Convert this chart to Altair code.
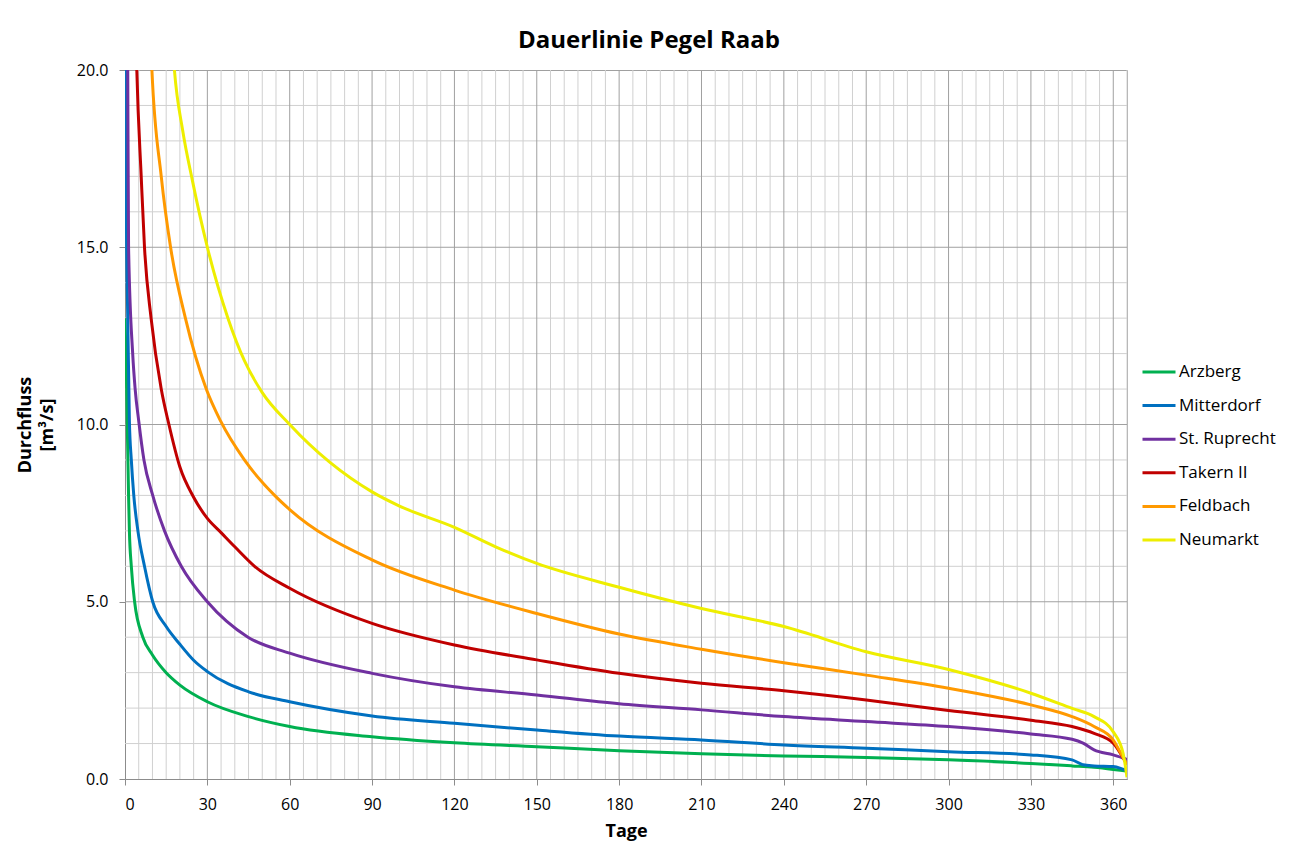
import altair as alt
import pandas as pd

stations = ["Arzberg", "Mitterdorf", "St. Ruprecht", "Takern II", "Feldbach", "Neumarkt"]
colors = ["#00B050", "#0070C0", "#7030A0", "#C00000", "#FF9900", "#EEEE00"]

arzberg_days = [0, 0.5, 0.8, 1.3, 1.6, 2.3, 3.5, 6.5, 10, 15, 20, 30, 45, 60, 90, 120, 150, 180, 210, 240, 270, 300, 330, 345, 353, 360, 364, 365]
arzberg_q = [13.0, 11.5, 10.1, 8.0, 7.0, 6.0, 5.0, 4.0, 3.5, 3.0, 2.65, 2.18, 1.76, 1.48, 1.19, 1.02, 0.91, 0.80, 0.71, 0.65, 0.61, 0.54, 0.44, 0.37, 0.33, 0.27, 0.23, 0.22]

mitterdorf_days = [0, 0.5, 1.0, 1.6, 2.3, 3.2, 4.7, 7.1, 10.1, 15, 20, 25, 30, 45, 60, 90, 120, 150, 180, 210, 240, 270, 300, 330, 345, 349, 353, 360, 364, 365]
mitterdorf_q = [30.0, 16.0, 13.0, 10.1, 9.0, 8.0, 7.0, 6.0, 5.0, 4.3, 3.8, 3.35, 3.03, 2.46, 2.18, 1.78, 1.57, 1.38, 1.21, 1.10, 0.96, 0.87, 0.77, 0.68, 0.54, 0.40, 0.37, 0.35, 0.27, 0.25]

ruprecht_days = [0, 1.0, 1.3, 2.8, 3.7, 5.0, 6.9, 10.1, 14.4, 20.5, 30, 44.8, 60, 90, 120, 150, 180, 210, 240, 270, 300, 330, 345, 349, 353, 360, 364, 365]
ruprecht_q = [40.0, 20.0, 15.0, 12.0, 11.0, 10.1, 9.0, 8.0, 7.0, 6.0, 5.0, 4.0, 3.55, 2.98, 2.60, 2.37, 2.12, 1.95, 1.76, 1.62, 1.48, 1.27, 1.12, 1.01, 0.82, 0.68, 0.58, 0.55]

takern_days = [0, 4.3, 5.9, 7.1, 9.5, 13.2, 16, 20, 25, 30, 35, 40, 47.2, 60, 90, 120, 150, 180, 210, 240, 270, 300, 330, 345, 353, 360, 364, 365]
takern_q = [45.0, 20.0, 17.0, 15.0, 13.0, 11.0, 10.0, 8.8, 7.95, 7.35, 6.95, 6.55, 6.0, 5.38, 4.39, 3.78, 3.36, 2.98, 2.70, 2.49, 2.23, 1.93, 1.66, 1.48, 1.29, 1.01, 0.54, 0.40]

feldbach_days = [0, 9.8, 13.2, 16.6, 22, 29.6, 34.8, 43.5, 54.5, 60, 90, 120, 150, 180, 210, 240, 270, 300, 330, 345, 353, 360, 364, 365]
feldbach_q = [60.0, 20.0, 17.0, 15.0, 13.0, 11.0, 10.1, 9.0, 8.0, 7.6, 6.18, 5.33, 4.67, 4.09, 3.66, 3.28, 2.93, 2.56, 2.09, 1.76, 1.48, 1.10, 0.54, 0.40]

neumarkt_days = [0, 18, 21, 24.5, 30, 37.5, 43.5, 50, 60, 90, 100, 120, 135, 150, 180, 210, 240, 270, 300, 330, 345, 353, 360, 363.6, 365]
neumarkt_q = [80.0, 20.0, 18.3, 16.9, 15.0, 13.0, 11.8, 10.9, 10.0, 8.1, 7.7, 7.1, 6.55, 6.08, 5.41, 4.81, 4.30, 3.59, 3.09, 2.42, 1.99, 1.76, 1.33, 0.72, 0.05]

x_ticks = list(range(0, 361, 30))
y_ticks = [0, 5, 10, 15, 20]
x_minor = [d for d in range(0, 366, 5) if d % 30 != 0]
x_major = [d for d in range(30, 361, 30)]
y_minor = [v for v in range(1, 20) if v % 5 != 0]
y_major = [5, 10, 15]

series = [
    (arzberg_days, arzberg_q),
    (mitterdorf_days, mitterdorf_q),
    (ruprecht_days, ruprecht_q),
    (takern_days, takern_q),
    (feldbach_days, feldbach_q),
    (neumarkt_days, neumarkt_q),
]
rows = []
for name, (days, qs) in zip(stations, series):
    for d, q in zip(days, qs):
        rows.append({"station": name, "day": d, "q": q})
df = pd.DataFrame(rows)

FONT = "Open Sans"
AXIS_GRAY = "#8c8c8c"

x_enc = alt.X(
    "day:Q",
    scale=alt.Scale(domain=[0, 365], nice=False, zero=False),
    axis=alt.Axis(
        values=x_ticks, grid=False, title="Tage", titleFont=FONT, titleFontSize=18,
        titleFontWeight="bold", titleColor="#000", titleY=52, titleBaseline="middle",
        labelFont=FONT, labelFontSize=16, labelColor="#000", labelPadding=11,
        tickSize=6, tickColor=AXIS_GRAY, domainColor=AXIS_GRAY,
    ),
)
y_enc = alt.Y(
    "q:Q",
    scale=alt.Scale(domain=[0, 20], nice=False),
    axis=alt.Axis(
        values=y_ticks, format=".1f", grid=False, title=["Durchfluss", "[m³/s]"],
        titleFont=FONT, titleFontSize=18, titleFontWeight="bold", titleColor="#000",
        titleAngle=270, titleX=-100, titleY=354.5, titleAlign="center", titleBaseline="middle",
        titleLineHeight=22,
        labelFont=FONT, labelFontSize=16, labelColor="#000", labelPadding=11,
        tickSize=6, tickColor=AXIS_GRAY, domainColor=AXIS_GRAY,
    ),
)

vminor = alt.Chart(pd.DataFrame({"day": x_minor})).mark_rule(color="#d0d0d0", strokeWidth=1).encode(x=x_enc)
vmajor = alt.Chart(pd.DataFrame({"day": x_major})).mark_rule(color="#a0a0a0", strokeWidth=1).encode(x=x_enc)
hminor = alt.Chart(pd.DataFrame({"q": y_minor})).mark_rule(color="#d0d0d0", strokeWidth=1).encode(y=y_enc)
hmajor = alt.Chart(pd.DataFrame({"q": y_major})).mark_rule(color="#a0a0a0", strokeWidth=1).encode(y=y_enc)

lines = alt.Chart(df).mark_line(strokeWidth=3, clip=True, interpolate="monotone").encode(
    x=x_enc,
    y=y_enc,
    color=alt.Color(
        "station:N",
        scale=alt.Scale(domain=stations, range=colors),
        legend=alt.Legend(title=None),
        sort=stations,
    ),
    order=alt.Order("day:Q"),
)

chart = alt.layer(vminor, hminor, vmajor, hmajor, lines).properties(
    width=1002,
    height=709,
    autosize=alt.AutoSizeParams(type="none"),
    padding={"left": 117, "top": 62, "right": 163, "bottom": 62},
    title=alt.TitleParams(
        "Dauerlinie Pegel Raab", font=FONT, fontSize=24, fontWeight="bold", color="#000",
        anchor="middle", dx=23, offset=9,
    ),
).configure_view(
    stroke="#a0a0a0", strokeWidth=1
).configure_legend(
    orient="none", legendX=1016, legendY=284, padding=0,
    symbolType="stroke", symbolSize=1089, symbolStrokeWidth=3,
    labelFont=FONT, labelFontSize=17, labelColor="#000", labelOffset=2, rowPadding=7.6,
)

chart.save("out.html", embed_options={"renderer": "svg", "actions": False})
